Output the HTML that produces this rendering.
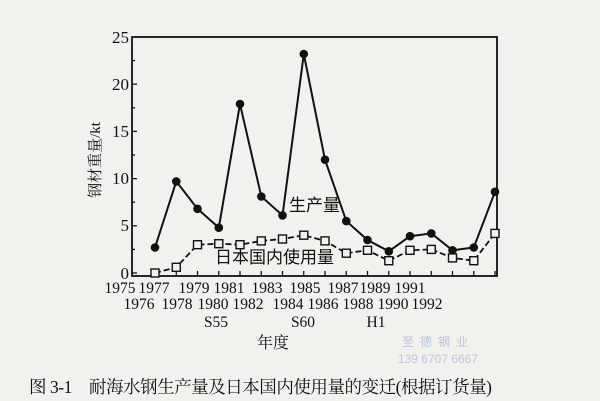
<!DOCTYPE html>
<html><head><meta charset="utf-8"><style>
html,body{margin:0;padding:0;background:#f3f1ee;}
svg{display:block;}
</style></head><body>
<svg width="600" height="401" viewBox="0 0 600 401" xmlns="http://www.w3.org/2000/svg">
<rect width="600" height="401" fill="#f3f1ee"/>
<g stroke="#111" fill="none">
<rect x="132" y="37" width="365" height="239" stroke-width="1.8"/>
</g>
<g stroke="#111" stroke-width="1.3">
<line x1="132" y1="273" x2="137" y2="273"/>
<line x1="132" y1="249.4" x2="135" y2="249.4"/>
<line x1="132" y1="225.8" x2="137" y2="225.8"/>
<line x1="132" y1="202.2" x2="135" y2="202.2"/>
<line x1="132" y1="178.6" x2="137" y2="178.6"/>
<line x1="132" y1="155" x2="135" y2="155"/>
<line x1="132" y1="131.4" x2="137" y2="131.4"/>
<line x1="132" y1="107.8" x2="135" y2="107.8"/>
<line x1="132" y1="84.2" x2="137" y2="84.2"/>
<line x1="132" y1="60.6" x2="135" y2="60.6"/>
</g>
<g stroke="#111" stroke-width="1.3" id="xt"></g>
<g font-family="Liberation Serif, serif" font-size="17" fill="#111" text-anchor="end">
<text x="129" y="43">25</text><text x="129" y="90">20</text><text x="129" y="137">15</text>
<text x="129" y="184">10</text><text x="129" y="231">5</text><text x="129" y="279">0</text>
</g>
<text transform="translate(100,160) rotate(-90)" font-family="Liberation Serif, 'Noto Serif CJK SC', serif" font-size="15" fill="#111" text-anchor="middle">钢材重量/kt</text>
<polyline fill="none" stroke="#111" stroke-width="2" points="155,247.5 176.3,181.4 197.5,208.8 218.8,227.7 240,104 261.3,196.5 282.5,215.4 303.8,54 325,159.7 346.3,221.1 367.5,240 388.8,251.3 410,236.2 431.3,233.4 452.5,250.3 473.8,247.5 495,191.8"/>
<g fill="#111">
<circle cx="155" cy="247.5" r="4.3"/><circle cx="176.3" cy="181.4" r="4.3"/><circle cx="197.5" cy="208.8" r="4.3"/><circle cx="218.8" cy="227.7" r="4.3"/><circle cx="240" cy="104" r="4.3"/><circle cx="261.3" cy="196.5" r="4.3"/><circle cx="282.5" cy="215.4" r="4.3"/><circle cx="303.8" cy="54" r="4.3"/><circle cx="325" cy="159.7" r="4.3"/><circle cx="346.3" cy="221.1" r="4.3"/><circle cx="367.5" cy="240" r="4.3"/><circle cx="388.8" cy="251.3" r="4.3"/><circle cx="410" cy="236.2" r="4.3"/><circle cx="431.3" cy="233.4" r="4.3"/><circle cx="452.5" cy="250.3" r="4.3"/><circle cx="473.8" cy="247.5" r="4.3"/><circle cx="495" cy="191.8" r="4.3"/>
</g>
<polyline fill="none" stroke="#111" stroke-width="1.8" stroke-dasharray="6,3" points="155,273 176.3,267.3 197.5,244.7 218.8,243.7 240,244.7 261.3,240.9 282.5,239 303.8,235.2 325,240.9 346.3,253.2 367.5,250.3 388.8,260.7 410,250.3 431.3,249.4 452.5,257.9 473.8,260.7 495,233.4"/>
<g fill="#f3f1ee" stroke="#111" stroke-width="1.4">
<rect x="151" y="269" width="8" height="8"/><rect x="172.3" y="263.3" width="8" height="8"/><rect x="193.5" y="240.7" width="8" height="8"/><rect x="214.8" y="239.7" width="8" height="8"/><rect x="236" y="240.7" width="8" height="8"/><rect x="257.3" y="236.9" width="8" height="8"/><rect x="278.5" y="235" width="8" height="8"/><rect x="299.8" y="231.2" width="8" height="8"/><rect x="321" y="236.9" width="8" height="8"/><rect x="342.3" y="249.2" width="8" height="8"/><rect x="363.5" y="246.3" width="8" height="8"/><rect x="384.8" y="256.7" width="8" height="8"/><rect x="406" y="246.3" width="8" height="8"/><rect x="427.3" y="245.4" width="8" height="8"/><rect x="448.5" y="253.9" width="8" height="8"/><rect x="469.8" y="256.7" width="8" height="8"/><rect x="491" y="229.4" width="8" height="8"/>
</g>
<g font-family="Liberation Sans, 'Noto Sans CJK SC', sans-serif" font-size="17" fill="#111">
<text x="289" y="211">生产量</text>
<text x="215" y="263">日本国内使用量</text>
</g>
<g font-family="Liberation Serif, serif" font-size="15.5" fill="#111" text-anchor="middle">
<text x="120" y="293">1975</text><text x="154" y="293">1977</text><text x="194" y="293">1979</text><text x="229" y="293">1981</text><text x="267" y="293">1983</text><text x="305" y="293">1985</text><text x="343" y="293">1987</text><text x="375" y="293">1989</text><text x="410" y="293">1991</text>
<text x="139" y="309">1976</text><text x="177" y="309">1978</text><text x="213" y="309">1980</text><text x="248" y="309">1982</text><text x="288" y="309">1984</text><text x="323" y="309">1986</text><text x="358" y="309">1988</text><text x="393" y="309">1990</text><text x="427" y="309">1992</text>
<text x="216" y="327">S55</text><text x="303" y="327">S60</text><text x="376" y="327">H1</text>
</g>
<text x="273" y="348" font-family="Liberation Serif, 'Noto Serif CJK SC', serif" font-size="16" fill="#111" text-anchor="middle">年度</text>
<g font-family="Liberation Sans, 'Noto Sans CJK SC', sans-serif" font-size="12" fill="#b8c4dc" text-anchor="middle">
<text x="438" y="346" letter-spacing="6">至德钢业</text>
<text x="438" y="363">139 6707 6667</text>
</g>
<text x="29" y="393" font-family="Liberation Serif, 'Noto Serif CJK SC', serif" font-size="17.5" fill="#111" textLength="463">图 3-1　耐海水钢生产量及日本国内使用量的变迁(根据订货量)</text>
<script>
var g=document.getElementById('xt');
for(var i=0;i<17;i++){var x=155+i*21.25;var l=document.createElementNS('http://www.w3.org/2000/svg','line');l.setAttribute('x1',x);l.setAttribute('x2',x);l.setAttribute('y1',276);l.setAttribute('y2',271);g.appendChild(l);}
</script>
</svg>
</body></html>
